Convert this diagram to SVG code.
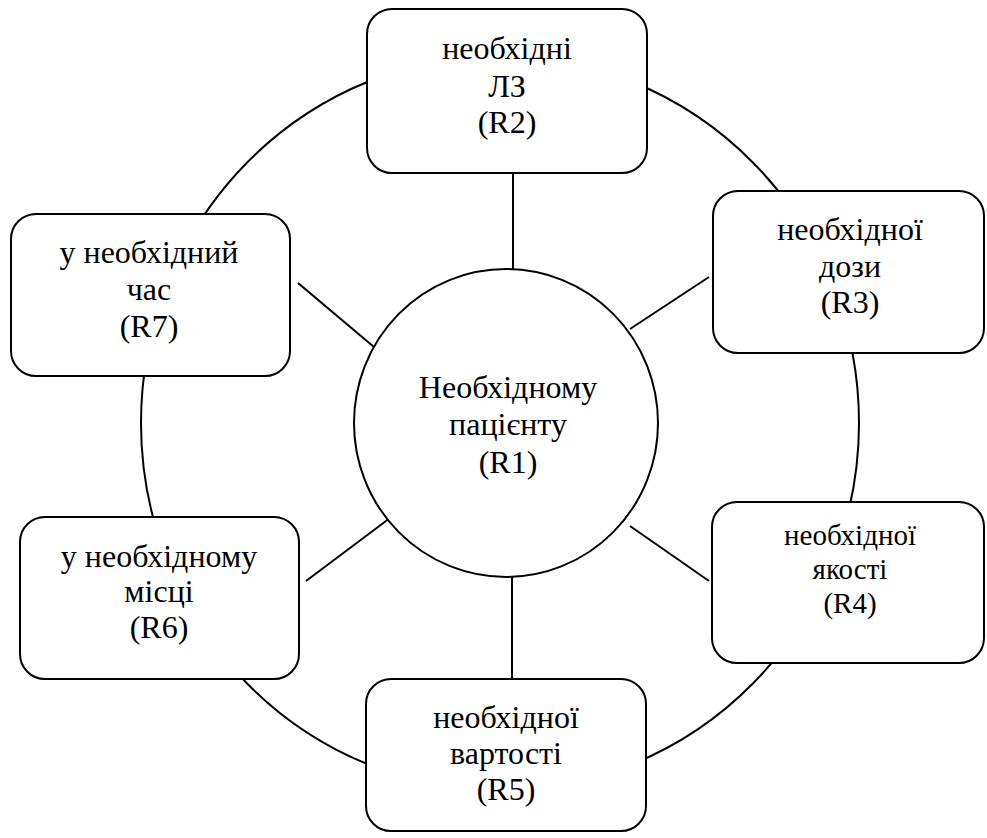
<svg xmlns="http://www.w3.org/2000/svg" width="987" height="838" viewBox="0 0 987 838">
<style>
.shape{fill:#fff;stroke:#000;stroke-width:2}
.ring{fill:none;stroke:#000;stroke-width:2}
.conn line{stroke:#000;stroke-width:2}
</style>
<rect width="987" height="838" fill="#fff"/>
<ellipse class="ring" cx="500" cy="423" rx="359" ry="367"/>
<g class="conn">
<line x1="513" y1="173" x2="513" y2="269"/>
<line x1="709" y1="277" x2="630" y2="329"/>
<line x1="709" y1="581" x2="630" y2="526"/>
<line x1="512" y1="577" x2="512" y2="679"/>
<line x1="306" y1="581" x2="390" y2="518"/>
<line x1="298" y1="283" x2="374" y2="347"/>
</g>
<g font-family="Liberation Serif, DejaVu Serif, serif" font-size="32" fill="#000" text-anchor="middle">
<g id="R2">
<rect class="shape" x="367" y="9" width="280" height="164" rx="25"/>
<text x="507" y="59">необхідні</text>
<text x="507" y="97">ЛЗ</text>
<text x="507" y="133">(R2)</text>
</g>
<g id="R3">
<rect class="shape" x="713" y="191" width="271" height="162" rx="25"/>
<text x="850" y="240">необхідної</text>
<text x="850" y="277">дози</text>
<text x="850" y="313">(R3)</text>
</g>
<g id="R4" font-size="29">
<rect class="shape" x="712" y="502" width="272" height="161" rx="25"/>
<text x="850" y="545">необхідної</text>
<text x="850" y="579">якості</text>
<text x="850" y="613">(R4)</text>
</g>
<g id="R5">
<rect class="shape" x="366" y="679" width="280" height="152" rx="25"/>
<text x="506" y="728">необхідної</text>
<text x="506" y="764">вартості</text>
<text x="506" y="800">(R5)</text>
</g>
<g id="R6">
<rect class="shape" x="20" y="517" width="279" height="162" rx="25"/>
<text x="159" y="567">у необхідному</text>
<text x="159" y="602">місці</text>
<text x="159" y="638">(R6)</text>
</g>
<g id="R7">
<rect class="shape" x="11" y="214" width="279" height="162" rx="25"/>
<text x="149" y="263">у необхідний</text>
<text x="149" y="300">час</text>
<text x="149" y="337">(R7)</text>
</g>
<g id="R1">
<ellipse class="shape" cx="506" cy="423" rx="152" ry="154"/>
<text x="508" y="398">Необхідному</text>
<text x="508" y="435">пацієнту</text>
<text x="508" y="473">(R1)</text>
</g>
</g>
</svg>
